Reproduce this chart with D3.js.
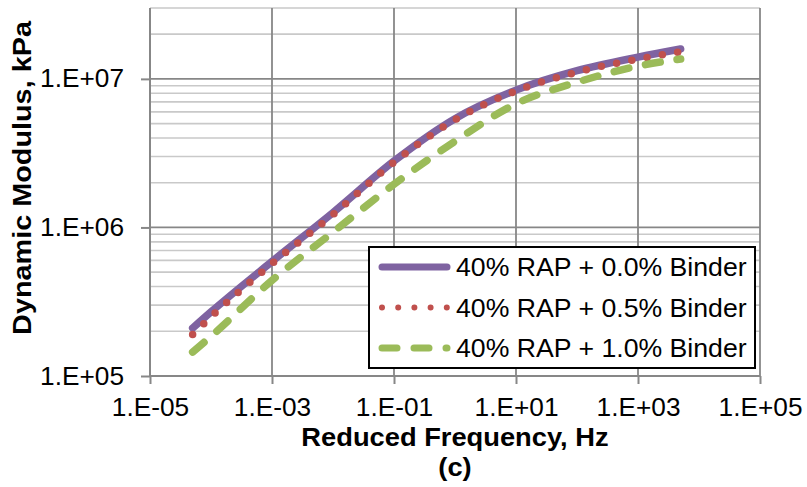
<!DOCTYPE html>
<html><head><meta charset="utf-8">
<script src="https://cdn.jsdelivr.net/npm/d3@7"></script>
<style>
body{margin:0;background:#fff}
svg{display:block}
text{font-family:"Liberation Sans",Arial,Helvetica,sans-serif;fill:#000}
</style></head>
<body><svg id="c" width="807" height="487"></svg>
<script>
// ---- data ----
const freq   = [5e-5, 1e-4, 1e-3, 1e-2, 1e-1, 1, 10, 100, 1000, 5000];
const rap00  = [2.1e5, 2.7e5, 5.9e5, 1.26e6, 2.8e6, 5.4e6, 8.4e6, 1.135e7, 1.40e7, 1.59e7];
const rap05  = [1.9e5, 2.5e5, 5.7e5, 1.22e6, 2.75e6, 5.3e6, 8.3e6, 1.11e7, 1.36e7, 1.52e7];
const rap10  = [1.45e5, 1.85e5, 4.4e5, 9.3e5, 1.95e6, 3.8e6, 6.8e6, 9.5e6, 1.22e7, 1.36e7];
const seriesNames = ["40% RAP + 0.0% Binder", "40% RAP + 0.5% Binder", "40% RAP + 1.0% Binder"];
const xTickValues = [1e-5, 1e-3, 1e-1, 1e1, 1e3, 1e5];
const xTickLabels = ["1.E-05", "1.E-03", "1.E-01", "1.E+01", "1.E+03", "1.E+05"];
const yTickValues = [1e5, 1e6, 1e7];
const yTickLabels = ["1.E+05", "1.E+06", "1.E+07"];
const xTitle = "Reduced Frequency, Hz";
const yTitle = "Dynamic Modulus, kPa";
const caption = "(c)";

// ---- layout ----
const svg = d3.select("#c");
const L = 150, R = 760, T = 8, B = 376;
const x = d3.scaleLog().domain([1e-5, 1e5]).range([L, R]);
const y = d3.scaleLog().domain([1e5, 3e7]).range([B, T]);
const axisCol = "#878787", minorCol = "#c9c9c9";

function stretch(sel, f) {
  sel.each(function () {
    const w = this.getComputedTextLength();
    d3.select(this).attr("textLength", w * f).attr("lengthAdjust", "spacingAndGlyphs");
  });
}

// minor horizontal gridlines
const minor = [];
for (let k = 5; k <= 7; k++) for (let m = 2; m <= 9; m++) { const v = m * Math.pow(10, k); if (v <= 3e7) minor.push(v); }
svg.append("g").selectAll("line").data(minor).join("line")
  .attr("x1", L).attr("x2", R).attr("y1", d => y(d)).attr("y2", d => y(d))
  .attr("stroke", minorCol).attr("stroke-width", 1.6);
// major horizontal gridlines
svg.append("g").selectAll("line").data(yTickValues.slice(1)).join("line")
  .attr("x1", L).attr("x2", R).attr("y1", d => y(d)).attr("y2", d => y(d))
  .attr("stroke", axisCol).attr("stroke-width", 1.8);
// vertical gridlines
svg.append("g").selectAll("line").data(xTickValues.slice(1)).join("line")
  .attr("x1", d => x(d)).attr("x2", d => x(d)).attr("y1", T).attr("y2", B)
  .attr("stroke", axisCol).attr("stroke-width", 1.8);

// axes
const xAxis = d3.axisBottom(x).tickValues(xTickValues).tickFormat((d, i) => xTickLabels[i]).tickSize(8).tickPadding(14);
const yAxis = d3.axisLeft(y).tickValues(yTickValues).tickFormat((d, i) => yTickLabels[i]).tickSize(9).tickPadding(17);
const gx = svg.append("g").attr("transform", `translate(0,${B})`).call(xAxis);
const gy = svg.append("g").attr("transform", `translate(${L},0)`).call(yAxis);
[gx, gy].forEach(g => {
  g.select(".domain").attr("stroke", axisCol).attr("stroke-width", 2);
  g.selectAll(".tick line").attr("stroke", axisCol).attr("stroke-width", 2);
  g.selectAll(".tick text").attr("font-size", 25).attr("font-family", '"Liberation Sans",Arial,sans-serif').attr("fill", "#000");
  stretch(g.selectAll(".tick text"), 1.05);
});
gy.select(".domain").attr("d", `M0,${B}V${T}`);
gx.select(".domain").attr("d", `M${L},0H${R}`);

// series
const styles = [
  {color: "#7F63A1", dash: null, width: 7.5},
  {color: "#C0504D", dash: "0 15.5", width: 7.5},
  {color: "#9BBB59", dash: "15 17", width: 7.5}
];
const allSeries = [rap00, rap05, rap10];
const line = d3.line().x(d => x(d[0])).y(d => y(d[1])).curve(d3.curveMonotoneX);
allSeries.forEach((s, i) => {
  const st = styles[i];
  svg.append("path").datum(freq.map((f, j) => [f, s[j]]))
    .attr("d", line).attr("fill", "none").attr("stroke", st.color)
    .attr("stroke-width", st.width).attr("stroke-linecap", "round").attr("stroke-linejoin", "round")
    .attr("stroke-dasharray", st.dash);
});

// legend
const lg = svg.append("g");
lg.append("rect").attr("x", 369).attr("y", 247).attr("width", 386).attr("height", 121)
  .attr("fill", "#fff").attr("stroke", "#000").attr("stroke-width", 2);
const rowsY = [267, 307.5, 348];
seriesNames.forEach((n, i) => {
  const st = styles[i];
  lg.append("line").attr("x1", 382).attr("x2", 447).attr("y1", rowsY[i]).attr("y2", rowsY[i])
    .attr("stroke", st.color).attr("stroke-width", i === 1 ? 6 : 7).attr("stroke-linecap", "round")
    .attr("stroke-dasharray", i === 1 ? "0 16.2" : st.dash);
  const t = lg.append("text").attr("x", 456).attr("y", rowsY[i] + 9).attr("font-size", 25.5).text(n);
  stretch(t, 1.045);
});

// titles
const xt = svg.append("text").attr("x", 455).attr("y", 446).attr("text-anchor", "middle")
  .attr("font-weight", "bold").attr("font-size", 25.5).text(xTitle);
stretch(xt, 1.07);
const ct = svg.append("text").attr("x", 455).attr("y", 476).attr("text-anchor", "middle")
  .attr("font-weight", "bold").attr("font-size", 25.5).text(caption);
stretch(ct, 1.07);
const yt = svg.append("text").attr("transform", "translate(31,178) rotate(-90)").attr("text-anchor", "middle")
  .attr("font-weight", "bold").attr("font-size", 25.5).text(yTitle);
stretch(yt, 1.13);
</script></body></html>
